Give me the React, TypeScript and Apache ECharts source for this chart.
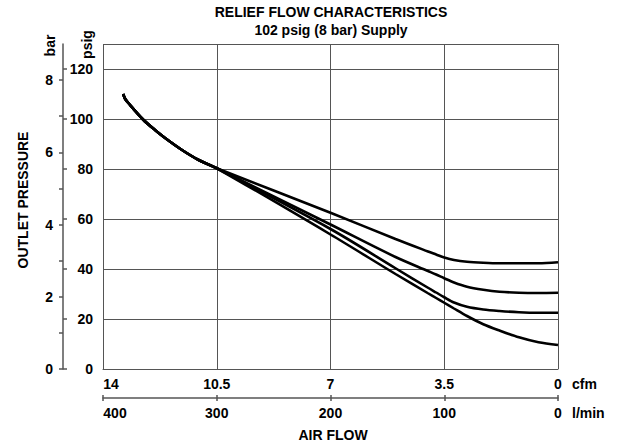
import React, { useEffect, useRef } from "react";
import * as echarts from "echarts";

// Common part of the four relief curves (cfm, psig)
const cfmCommon = [13.38, 13.32, 13.22, 12.76, 12.4, 12.09, 11.58, 11.07, 10.5];
const psigCommon = [110, 108.1, 106.4, 99.7, 95.6, 92.4, 87.7, 83.7, 80.3];

// Divergent tails
const cfmTail = [7, 5, 4, 3.75, 3.5, 3.2, 2.8, 2.3, 1.8, 1.2, 0.6, 0];
const psigA = [62.5, 52, 47, 45.8, 44.6, 43.6, 42.9, 42.5, 42.3, 42.3, 42.3, 42.7];
const psigB = [57.8, 44.8, 39.2, 37.8, 36.3, 34.6, 32.9, 31.7, 30.9, 30.5, 30.4, 30.5];
const psigC = [56, 40.3, 32.5, 30.6, 28.7, 26.6, 24.9, 23.8, 23.2, 22.7, 22.5, 22.5];
const psigD = [53.8, 38, 30.3, 28.4, 26.5, 24.2, 21.2, 17.9, 15.4, 12.7, 10.7, 9.6];

// Axes
const cfmMax = 14;
const lminMax = 400;
const psigMax = 130;
const psigTickValues = [0, 20, 40, 60, 80, 100, 120];
const barMax = 9;
const barTickValues = [0, 1, 2, 3, 4, 5, 6, 7, 8];
const barLabelValues = [0, 2, 4, 6, 8];

const titleText = "RELIEF FLOW CHARACTERISTICS";
const subtitleText = "102 psig (8 bar) Supply";

const FONT = '"Liberation Sans", Arial, sans-serif';
const GRID = "#555555";

function buildData(tail: number[]) {
  const pts: number[][] = [];
  cfmCommon.forEach((c, i) => pts.push([c, psigCommon[i]]));
  cfmTail.forEach((c, i) => pts.push([c, tail[i]]));
  return pts;
}

export default function App() {
  const ref = useRef<HTMLDivElement>(null);
  useEffect(() => {
    if (!ref.current) return;
    const chart = echarts.init(ref.current, null, { renderer: "svg" });
    const labelStyle = {
      color: "#000",
      fontFamily: FONT,
      fontWeight: "bold" as const,
      fontSize: 14,
    };
    const series = [psigA, psigB, psigC, psigD].map((tail) => ({
      type: "line",
      xAxisIndex: 0,
      yAxisIndex: 0,
      data: buildData(tail),
      symbol: "none",
      smooth: 0.3,
      lineStyle: { color: "#000", width: 2.6 },
    }));
    const text = (t: string, x: number, y: number, extra: any = {}) => ({
      type: "text",
      x,
      y,
      ...extra,
      style: {
        text: t,
        fill: "#000",
        font: `bold 14px ${FONT}`,
        align: extra.align || "center",
        verticalAlign: "middle",
      },
    });
    chart.setOption({
      animation: false,
      grid: { left: 103, top: 44, width: 455, height: 325, containLabel: false },
      xAxis: [
        {
          type: "value",
          min: 0,
          max: cfmMax,
          interval: 3.5,
          inverse: true,
          position: "bottom",
          axisLine: { show: true, onZero: false, lineStyle: { color: GRID, width: 1 } },
          axisTick: { show: false },
          splitLine: { show: true, lineStyle: { color: GRID, width: 1 } },
          axisLabel: {
            ...labelStyle,
            margin: 8,
            formatter: (v: number) => (v === cfmMax ? `{l|${v}}` : String(v)),
            rich: { l: { ...labelStyle, padding: [0, 0, 0, 16] } },
          },
        },
        {
          type: "value",
          min: 0,
          max: lminMax,
          interval: 100,
          inverse: true,
          position: "bottom",
          offset: 29,
          axisLine: { show: true, onZero: false, lineStyle: { color: GRID, width: 1.5 } },
          axisTick: { show: true, length: 3, inside: false, lineStyle: { color: GRID, width: 1.5 } },
          splitLine: { show: false },
          axisLabel: {
            ...labelStyle,
            margin: 8,
            formatter: (v: number) => (v === lminMax ? `{l|${v}}` : String(v)),
            rich: { l: { ...labelStyle, padding: [0, 0, 0, 24] } },
          },
        },
        {
          type: "value",
          min: 0,
          max: lminMax,
          interval: 100,
          inverse: true,
          position: "bottom",
          offset: 29,
          axisLine: { show: false, onZero: false },
          axisTick: { show: true, length: 3, inside: true, lineStyle: { color: GRID, width: 1.5 } },
          splitLine: { show: false },
          axisLabel: { show: false },
        },
      ],
      yAxis: [
        {
          type: "value",
          min: 0,
          max: psigMax,
          interval: 20,
          position: "left",
          axisLine: { show: false, onZero: false },
          axisTick: { show: false },
          splitLine: { show: true, lineStyle: { color: GRID, width: 1 } },
          axisLabel: {
            ...labelStyle,
            margin: 10,
            formatter: (v: number) => (psigTickValues.includes(v) ? String(v) : ""),
          },
        },
        {
          type: "value",
          min: 0,
          max: psigMax,
          interval: 20,
          position: "left",
          offset: 40,
          axisLine: { show: true, onZero: false, lineStyle: { color: GRID, width: 1.5 } },
          axisTick: {
            show: true,
            inside: true,
            length: 4,
            customValues: psigTickValues,
            lineStyle: { color: GRID, width: 1.5 },
          },
          splitLine: { show: false },
          axisLabel: { show: false },
        },
        {
          type: "value",
          min: 0,
          max: barMax,
          interval: 1,
          position: "left",
          offset: 40,
          axisLine: { show: false, onZero: false },
          axisTick: {
            show: true,
            inside: false,
            length: 4,
            customValues: barTickValues,
            lineStyle: { color: GRID, width: 1.5 },
          },
          splitLine: { show: false },
          axisLabel: {
            ...labelStyle,
            margin: 10,
            customValues: barLabelValues,
            formatter: (v: number) => (barLabelValues.includes(v) ? String(v) : ""),
          },
        },
      ],
      graphic: [
        text(titleText, 331, 12),
        text(subtitleText, 331, 29.5),
        text("bar", 50, 45.5, { rotation: Math.PI / 2 }),
        text("psig", 86.5, 44.5, { rotation: Math.PI / 2 }),
        text("OUTLET PRESSURE", 23, 200, { rotation: Math.PI / 2 }),
        text("AIR FLOW", 333, 435),
        text("cfm", 572, 383.5, { align: "left" }),
        text("l/min", 572, 413, { align: "left" }),
      ],
      series,
    });
    return () => chart.dispose();
  }, []);
  return <div ref={ref} style={{ width: 621, height: 446, position: "absolute", left: 0, top: 0 }} />;
}
